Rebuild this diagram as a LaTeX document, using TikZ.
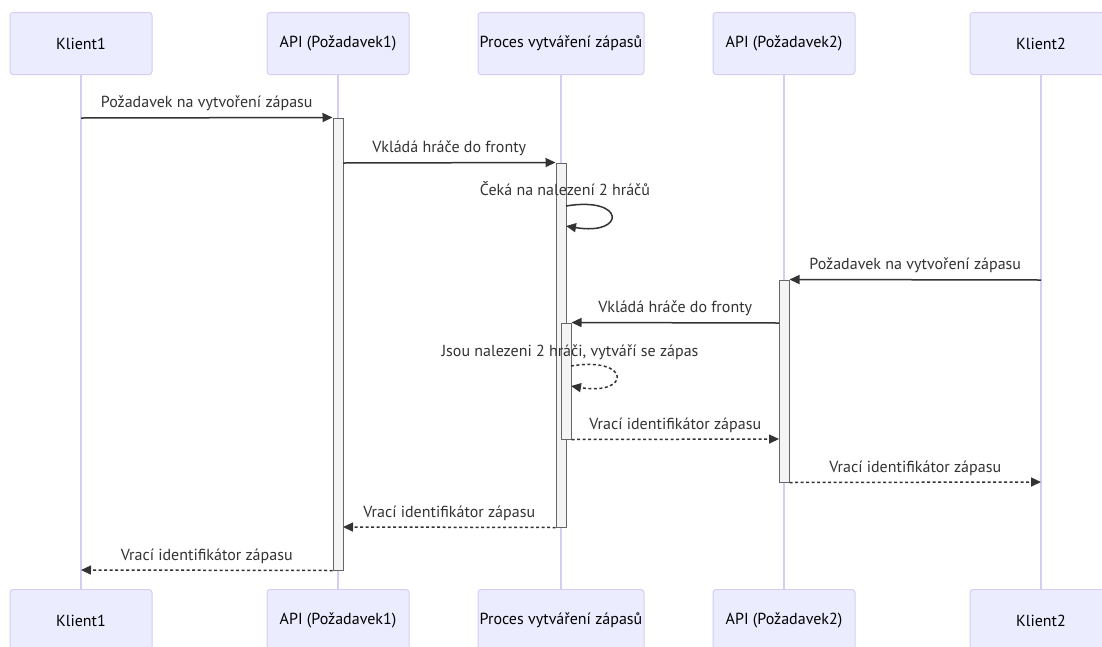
\documentclass[tikz,border=0pt]{standalone}
\usepackage{fontspec}
\setmainfont{PT Sans}
\usetikzlibrary{arrows.meta}
\definecolor{actfill}{HTML}{ECECFF}
\definecolor{actline}{HTML}{D7CDF3}
\definecolor{txt}{HTML}{333333}
\definecolor{barfill}{HTML}{F4F4F4}
\definecolor{barline}{HTML}{666666}
\tikzset{
 actor/.style={draw=actline, fill=actfill, rounded corners=3pt, minimum width=142pt, minimum height=62pt, inner sep=0pt, font=\fontsize{16}{19}\selectfont, text=black, line width=1pt},
 lifeline/.style={draw=actline, line width=1.5pt},
 bar/.style={draw=barline, fill=barfill, line width=1pt, minimum width=10pt, inner sep=0pt},
 msg/.style={draw=txt, line width=1.5pt, -{Triangle[length=10pt,width=9pt]}},
 reply/.style={msg, dash pattern=on 3pt off 2.5pt},
 lbl/.style={font=\fontsize{16}{19}\selectfont, text=txt, inner sep=0pt},
 mlbl/.style={lbl, anchor=base, yshift=10pt},
}
\begin{document}
\begin{tikzpicture}[x=1pt,y=-1pt]
\useasboundingbox (0,0) rectangle (1102,646);
\clip (0,0) rectangle (1102,646);
\fill[white] (0,0) rectangle (1102,646);
% actors top
\node[actor] (k1t) at (81,43.5) {Klient1};
\node[actor] (a1t) at (338,43.5) {API (Požadavek1)};
\node[actor, minimum width=166pt] (pt) at (561,43.5) {Proces vytváření zápasů};
\node[actor] (a2t) at (784,43.5) {API (Požadavek2)};
\node[actor] (k2t) at (1041,43.5) {Klient2};
% actors bottom
\node[actor] (k1b) at (81,620.5) {Klient1};
\node[actor] (a1b) at (338,620.5) {API (Požadavek1)};
\node[actor, minimum width=166pt] (pb) at (561,620.5) {Proces vytváření zápasů};
\node[actor] (a2b) at (784,620.5) {API (Požadavek2)};
\node[actor] (k2b) at (1041,620.5) {Klient2};
% lifelines
\draw[lifeline] (k1t.south) -- (k1b.north);
\draw[lifeline] (a1t.south) -- (a1b.north);
\draw[lifeline] (pt.south) -- (pb.north);
\draw[lifeline] (a2t.south) -- (a2b.north);
\draw[lifeline] (k2t.south) -- (k2b.north);
% activation bars
\node[bar, minimum height=452pt] (a1) at (338,344) {};
\node[bar, minimum height=364pt] (p1) at (561,345) {};
\node[bar, minimum height=202pt] (a2) at (784,381) {};
\node[bar, minimum height=116pt] (p2) at (566,381) {};
% message end points
\coordinate (m1s) at (81,118);
\coordinate (m2s) at (343,163);
\coordinate (l1s) at (566,206);
\coordinate (l1e) at (566,226);
\coordinate (m4s) at (1041,280);
\coordinate (m5s) at (779,323);
\coordinate (l2s) at (571,366);
\coordinate (l2e) at (571,386);
\coordinate (m7e) at (779,439);
\coordinate (m8e) at (1041,482);
\coordinate (m9e) at (343,527);
\coordinate (m10e) at (81,570);
% messages
\draw[msg] (m1s) -- node[mlbl] (t1) {Požadavek na vytvoření zápasu} (a1.north west);
\draw[msg] (m2s) -- node[mlbl] (t2) {Vkládá hráče do fronty} (p1.north west);
\draw[msg] (l1s) .. controls (626,196) and (626,236) .. (l1e);
\node[lbl, anchor=base] (t3) at (565,195) {Čeká na nalezení 2 hráčů};
\draw[msg] (m4s) -- node[mlbl] (t4) {Požadavek na vytvoření zápasu} (a2.north east);
\draw[msg] (m5s) -- node[mlbl] (t5) {Vkládá hráče do fronty} (p2.north east);
\draw[reply] (l2s) .. controls (631,356) and (631,396) .. (l2e);
\node[lbl, anchor=base] (t6) at (570,356) {Jsou nalezeni 2 hráči, vytváří se zápas};
\draw[reply] (p2.south east) -- node[mlbl] (t7) {Vrací identifikátor zápasu} (m7e);
\draw[reply] (a2.south east) -- node[mlbl] (t8) {Vrací identifikátor zápasu} (m8e);
\draw[reply] (p1.south west) -- node[mlbl] (t9) {Vrací identifikátor zápasu} (m9e);
\draw[reply] (a1.south west) -- node[mlbl] (t10) {Vrací identifikátor zápasu} (m10e);
\end{tikzpicture}
\end{document}
